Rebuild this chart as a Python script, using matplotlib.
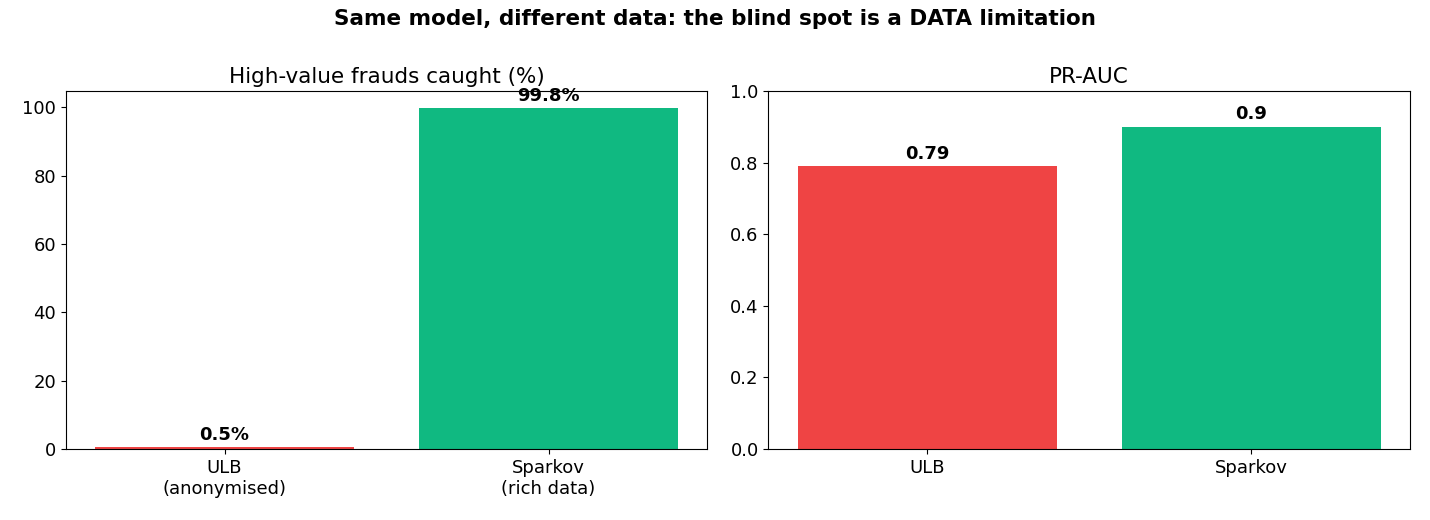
import matplotlib.pyplot as plt

datasets = ["ULB\n(anonymised)", "Sparkov\n(rich data)"]
datasets_short = ["ULB", "Sparkov"]
high_value_caught = [0.5, 99.8]
pr_auc = [0.79, 0.90]
colors = ["#EF4444", "#10B981"]

plt.rcParams['font.size'] = 13
fig, (ax1, ax2) = plt.subplots(1, 2, figsize=(14.3, 5.2), dpi=100)

# left: share of high-value frauds caught
ax1.bar(datasets, high_value_caught, color=colors)
for i, v in enumerate(high_value_caught):
    ax1.text(i, v + 1, f"{v}%", ha="center", va="bottom", fontweight="bold", fontsize=13)
ax1.set_title("High-value frauds caught (%)", fontsize=15.5)

# right: PR-AUC
ax2.bar(datasets_short, pr_auc, color=colors)
for i, v in enumerate(pr_auc):
    ax2.text(i, v + 0.01, f"{v:g}", ha="center", va="bottom", fontweight="bold", fontsize=13)
ax2.set_ylim(0, 1.0)
ax2.set_title("PR-AUC", fontsize=15.5)

fig.suptitle("Same model, different data: the blind spot is a DATA limitation",
             fontweight="bold", fontsize=15.5, y=0.963, va="center")
plt.subplots_adjust(left=0.046, right=0.986, top=0.825, bottom=0.1365, wspace=0.095)
plt.savefig("out.png")
